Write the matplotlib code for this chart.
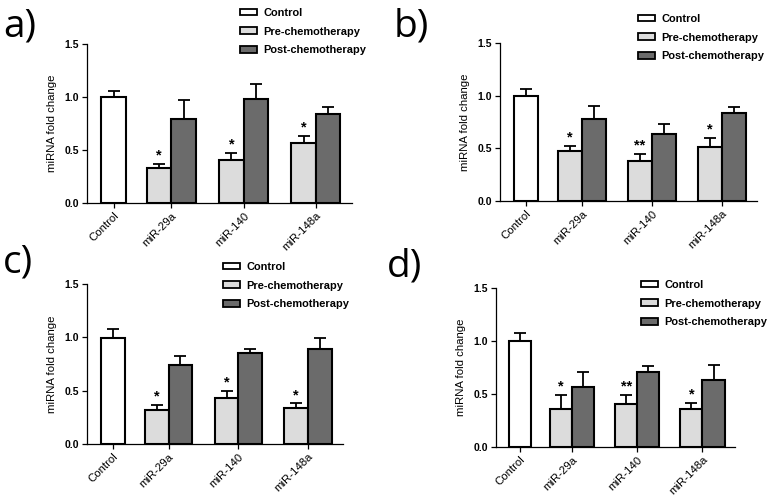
"""
Figura: expresion de miRNA (control, pre y post quimioterapia), paneles a-d
"""

import matplotlib
matplotlib.use('Agg')
import matplotlib.pyplot as plt
from matplotlib.patches import Patch

plt.rcParams['font.family'] = ['Liberation Sans', 'DejaVu Sans']

# Datos
panels = ['a)', 'b)', 'c)', 'd)']
categories = ['Control', 'miR-29a', 'miR-140', 'miR-148a']
series = ['Control', 'Pre-chemotherapy', 'Post-chemotherapy']

control_mean = [1.0, 1.0, 0.99, 1.0]
control_err = [0.06, 0.065, 0.085, 0.08]

pre_mean = [[0.33, 0.41, 0.57],
            [0.47, 0.38, 0.51],
            [0.32, 0.43, 0.34],
            [0.36, 0.41, 0.36]]
pre_err = [[0.04, 0.065, 0.065],
           [0.056, 0.066, 0.09],
           [0.05, 0.066, 0.04],
           [0.128, 0.078, 0.057]]

post_mean = [[0.79, 0.98, 0.84],
             [0.78, 0.64, 0.84],
             [0.74, 0.85, 0.89],
             [0.57, 0.71, 0.63]]
post_err = [[0.185, 0.14, 0.066],
            [0.12, 0.089, 0.054],
            [0.086, 0.043, 0.10],
            [0.138, 0.056, 0.144]]

stars = [['*', '*', '*'],
         ['*', '**', '*'],
         ['*', '*', '*'],
         ['*', '**', '*']]

# Colores
col_control = 'white'
col_pre = '#dcdcdc'
col_post = '#6b6b6b'

# Layout en pixeles (izq, der, arriba, abajo del eje)
W, H = 773, 499
axes_px = [(87, 352, 44, 203),
           (500, 757, 43, 201),
           (87, 343, 284, 444),
           (496, 735, 288, 447)]
legend_px = [(240, 8), (638, 14), (223, 262), (641, 280)]
label_px = [(3, 37), (394, 37), (3, 273), (387, 277)]

x_control = 0.2
x_groups = [1, 2, 3]
bw = 0.34


def dibujar_panel(fig, i):
    l, r, t, b = axes_px[i]
    ax = fig.add_axes([l / W, 1 - b / H, (r - l) / W, (b - t) / H])

    kw = dict(width=bw, edgecolor='black', linewidth=1.5, zorder=3)
    ax.bar([x_control], [control_mean[i]], color=col_control, **kw)
    x_pre = [g - bw / 2 for g in x_groups]
    x_post = [g + bw / 2 for g in x_groups]
    ax.bar(x_pre, pre_mean[i], color=col_pre, **kw)
    ax.bar(x_post, post_mean[i], color=col_post, **kw)

    # Barras de error (solo hacia arriba)
    xs = [x_control] + x_pre + x_post
    ys = [control_mean[i]] + pre_mean[i] + post_mean[i]
    es = [control_err[i]] + pre_err[i] + post_err[i]
    ax.errorbar(xs, ys, yerr=[[0] * len(es), es], fmt='none', ecolor='black',
                elinewidth=1.3, capsize=4.5, capthick=1.3, zorder=2)

    # Asteriscos
    for xp, m, e, s in zip(x_pre, pre_mean[i], pre_err[i], stars[i]):
        ax.annotate(s, (xp, m + e), xytext=(0, 1), textcoords='offset points',
                    ha='center', va='bottom', fontsize=10.5, fontweight='bold')

    ax.set_ylim(0, 1.5)
    ax.set_xlim(-0.17, 3.5)
    ax.set_yticks([0, 0.5, 1.0, 1.5])
    ax.set_yticklabels(['0.0', '0.5', '1.0', '1.5'], fontsize=7.5, fontweight='bold')
    ax.set_xticks([x_control] + x_groups)
    ax.set_xticklabels(categories, rotation=45, ha='right', rotation_mode='anchor',
                       fontsize=8.2)
    ax.tick_params(length=3.5, width=0.9, pad=2)
    ax.set_ylabel('miRNA fold change', fontsize=8.2, labelpad=6)
    for sp in ['top', 'right']:
        ax.spines[sp].set_visible(False)
    for sp in ['left', 'bottom']:
        ax.spines[sp].set_linewidth(0.9)

    handles = [Patch(facecolor=c, edgecolor='black', linewidth=1.3)
               for c in [col_control, col_pre, col_post]]
    lx, ly = legend_px[i]
    ax.legend(handles, series, loc='upper left', bbox_to_anchor=(lx / W, 1 - ly / H),
              bbox_transform=fig.transFigure, frameon=False, borderpad=0,
              borderaxespad=0, handlelength=1.55, handleheight=0.55,
              handletextpad=0.6, labelspacing=0.78,
              prop={'size': 7.9, 'weight': 'bold'})

    px, py = label_px[i]
    fig.text(px / W, 1 - py / H, panels[i], fontsize=28, family='Open Sans',
             ha='left', va='baseline')


def main():
    fig = plt.figure(figsize=(W / 100, H / 100), dpi=100)
    for i in range(len(panels)):
        dibujar_panel(fig, i)
    fig.savefig('out.png', dpi=100)
    plt.close(fig)


if __name__ == "__main__":
    main()
